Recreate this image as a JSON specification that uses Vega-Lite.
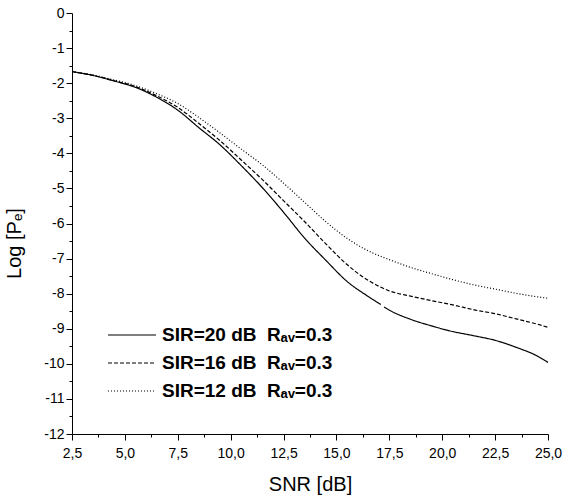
{
  "$schema": "https://vega.github.io/schema/vega-lite/v6.json",
  "width": 476,
  "height": 421,
  "autosize": {"type": "none"},
  "padding": {"left": 72, "top": 13, "right": 22, "bottom": 68},
  "background": "white",
  "config": {
    "view": {"stroke": null},
    "font": "Liberation Sans",
    "axis": {
      "grid": false,
      "domainColor": "black",
      "domainWidth": 1,
      "tickColor": "black",
      "tickWidth": 1,
      "labelColor": "black",
      "labelFont": "Liberation Sans",
      "labelFontSize": 14,
      "titleColor": "black",
      "titleFont": "Liberation Sans",
      "titleFontSize": 20,
      "titleFontWeight": "normal"
    }
  },
  "data": {
    "values": [
      {"snr": 2.5, "logpe": -1.67, "series": "SIR=20 dB\u00a0\u00a0Rₐᵥ=0.3", "seg": "a"},
      {"snr": 3.5, "logpe": -1.78, "series": "SIR=20 dB\u00a0\u00a0Rₐᵥ=0.3", "seg": "a"},
      {"snr": 4.5, "logpe": -1.94, "series": "SIR=20 dB\u00a0\u00a0Rₐᵥ=0.3", "seg": "a"},
      {"snr": 5.5, "logpe": -2.12, "series": "SIR=20 dB\u00a0\u00a0Rₐᵥ=0.3", "seg": "a"},
      {"snr": 6.5, "logpe": -2.40, "series": "SIR=20 dB\u00a0\u00a0Rₐᵥ=0.3", "seg": "a"},
      {"snr": 7.5, "logpe": -2.77, "series": "SIR=20 dB\u00a0\u00a0Rₐᵥ=0.3", "seg": "a"},
      {"snr": 8.5, "logpe": -3.27, "series": "SIR=20 dB\u00a0\u00a0Rₐᵥ=0.3", "seg": "a"},
      {"snr": 9.5, "logpe": -3.76, "series": "SIR=20 dB\u00a0\u00a0Rₐᵥ=0.3", "seg": "a"},
      {"snr": 10.5, "logpe": -4.35, "series": "SIR=20 dB\u00a0\u00a0Rₐᵥ=0.3", "seg": "a"},
      {"snr": 11.5, "logpe": -4.98, "series": "SIR=20 dB\u00a0\u00a0Rₐᵥ=0.3", "seg": "a"},
      {"snr": 12.5, "logpe": -5.68, "series": "SIR=20 dB\u00a0\u00a0Rₐᵥ=0.3", "seg": "a"},
      {"snr": 13.5, "logpe": -6.42, "series": "SIR=20 dB\u00a0\u00a0Rₐᵥ=0.3", "seg": "a"},
      {"snr": 14.5, "logpe": -7.05, "series": "SIR=20 dB\u00a0\u00a0Rₐᵥ=0.3", "seg": "a"},
      {"snr": 15.5, "logpe": -7.65, "series": "SIR=20 dB\u00a0\u00a0Rₐᵥ=0.3", "seg": "a"},
      {"snr": 16.5, "logpe": -8.08, "series": "SIR=20 dB\u00a0\u00a0Rₐᵥ=0.3", "seg": "a"},
      {"snr": 17.1, "logpe": -8.31, "series": "SIR=20 dB\u00a0\u00a0Rₐᵥ=0.3", "seg": "a"},
      {"snr": 17.25, "logpe": -8.38, "series": "SIR=20 dB\u00a0\u00a0Rₐᵥ=0.3", "seg": "b"},
      {"snr": 17.5, "logpe": -8.47, "series": "SIR=20 dB\u00a0\u00a0Rₐᵥ=0.3", "seg": "b"},
      {"snr": 18.5, "logpe": -8.73, "series": "SIR=20 dB\u00a0\u00a0Rₐᵥ=0.3", "seg": "b"},
      {"snr": 19.5, "logpe": -8.92, "series": "SIR=20 dB\u00a0\u00a0Rₐᵥ=0.3", "seg": "b"},
      {"snr": 20.5, "logpe": -9.08, "series": "SIR=20 dB\u00a0\u00a0Rₐᵥ=0.3", "seg": "b"},
      {"snr": 21.5, "logpe": -9.20, "series": "SIR=20 dB\u00a0\u00a0Rₐᵥ=0.3", "seg": "b"},
      {"snr": 22.5, "logpe": -9.33, "series": "SIR=20 dB\u00a0\u00a0Rₐᵥ=0.3", "seg": "b"},
      {"snr": 23.5, "logpe": -9.53, "series": "SIR=20 dB\u00a0\u00a0Rₐᵥ=0.3", "seg": "b"},
      {"snr": 24.5, "logpe": -9.78, "series": "SIR=20 dB\u00a0\u00a0Rₐᵥ=0.3", "seg": "b"},
      {"snr": 25.0, "logpe": -9.96, "series": "SIR=20 dB\u00a0\u00a0Rₐᵥ=0.3", "seg": "b"},

      {"snr": 2.5, "logpe": -1.67, "series": "SIR=16 dB\u00a0\u00a0Rₐᵥ=0.3", "seg": "a"},
      {"snr": 3.5, "logpe": -1.78, "series": "SIR=16 dB\u00a0\u00a0Rₐᵥ=0.3", "seg": "a"},
      {"snr": 4.5, "logpe": -1.93, "series": "SIR=16 dB\u00a0\u00a0Rₐᵥ=0.3", "seg": "a"},
      {"snr": 5.5, "logpe": -2.10, "series": "SIR=16 dB\u00a0\u00a0Rₐᵥ=0.3", "seg": "a"},
      {"snr": 6.5, "logpe": -2.36, "series": "SIR=16 dB\u00a0\u00a0Rₐᵥ=0.3", "seg": "a"},
      {"snr": 7.5, "logpe": -2.69, "series": "SIR=16 dB\u00a0\u00a0Rₐᵥ=0.3", "seg": "a"},
      {"snr": 8.5, "logpe": -3.15, "series": "SIR=16 dB\u00a0\u00a0Rₐᵥ=0.3", "seg": "a"},
      {"snr": 9.5, "logpe": -3.64, "series": "SIR=16 dB\u00a0\u00a0Rₐᵥ=0.3", "seg": "a"},
      {"snr": 10.5, "logpe": -4.19, "series": "SIR=16 dB\u00a0\u00a0Rₐᵥ=0.3", "seg": "a"},
      {"snr": 11.5, "logpe": -4.75, "series": "SIR=16 dB\u00a0\u00a0Rₐᵥ=0.3", "seg": "a"},
      {"snr": 12.5, "logpe": -5.35, "series": "SIR=16 dB\u00a0\u00a0Rₐᵥ=0.3", "seg": "a"},
      {"snr": 13.5, "logpe": -5.95, "series": "SIR=16 dB\u00a0\u00a0Rₐᵥ=0.3", "seg": "a"},
      {"snr": 14.5, "logpe": -6.58, "series": "SIR=16 dB\u00a0\u00a0Rₐᵥ=0.3", "seg": "a"},
      {"snr": 15.5, "logpe": -7.17, "series": "SIR=16 dB\u00a0\u00a0Rₐᵥ=0.3", "seg": "a"},
      {"snr": 16.5, "logpe": -7.62, "series": "SIR=16 dB\u00a0\u00a0Rₐᵥ=0.3", "seg": "a"},
      {"snr": 17.5, "logpe": -7.92, "series": "SIR=16 dB\u00a0\u00a0Rₐᵥ=0.3", "seg": "a"},
      {"snr": 18.5, "logpe": -8.07, "series": "SIR=16 dB\u00a0\u00a0Rₐᵥ=0.3", "seg": "a"},
      {"snr": 19.5, "logpe": -8.20, "series": "SIR=16 dB\u00a0\u00a0Rₐᵥ=0.3", "seg": "a"},
      {"snr": 20.5, "logpe": -8.32, "series": "SIR=16 dB\u00a0\u00a0Rₐᵥ=0.3", "seg": "a"},
      {"snr": 21.5, "logpe": -8.46, "series": "SIR=16 dB\u00a0\u00a0Rₐᵥ=0.3", "seg": "a"},
      {"snr": 22.5, "logpe": -8.57, "series": "SIR=16 dB\u00a0\u00a0Rₐᵥ=0.3", "seg": "a"},
      {"snr": 23.5, "logpe": -8.72, "series": "SIR=16 dB\u00a0\u00a0Rₐᵥ=0.3", "seg": "a"},
      {"snr": 24.5, "logpe": -8.87, "series": "SIR=16 dB\u00a0\u00a0Rₐᵥ=0.3", "seg": "a"},
      {"snr": 25.0, "logpe": -8.96, "series": "SIR=16 dB\u00a0\u00a0Rₐᵥ=0.3", "seg": "a"},

      {"snr": 2.5, "logpe": -1.67, "series": "SIR=12 dB\u00a0\u00a0Rₐᵥ=0.3", "seg": "a"},
      {"snr": 3.5, "logpe": -1.77, "series": "SIR=12 dB\u00a0\u00a0Rₐᵥ=0.3", "seg": "a"},
      {"snr": 4.5, "logpe": -1.91, "series": "SIR=12 dB\u00a0\u00a0Rₐᵥ=0.3", "seg": "a"},
      {"snr": 5.5, "logpe": -2.07, "series": "SIR=12 dB\u00a0\u00a0Rₐᵥ=0.3", "seg": "a"},
      {"snr": 6.5, "logpe": -2.30, "series": "SIR=12 dB\u00a0\u00a0Rₐᵥ=0.3", "seg": "a"},
      {"snr": 7.5, "logpe": -2.58, "series": "SIR=12 dB\u00a0\u00a0Rₐᵥ=0.3", "seg": "a"},
      {"snr": 8.5, "logpe": -2.98, "series": "SIR=12 dB\u00a0\u00a0Rₐᵥ=0.3", "seg": "a"},
      {"snr": 9.5, "logpe": -3.42, "series": "SIR=12 dB\u00a0\u00a0Rₐᵥ=0.3", "seg": "a"},
      {"snr": 10.5, "logpe": -3.88, "series": "SIR=12 dB\u00a0\u00a0Rₐᵥ=0.3", "seg": "a"},
      {"snr": 11.5, "logpe": -4.33, "series": "SIR=12 dB\u00a0\u00a0Rₐᵥ=0.3", "seg": "a"},
      {"snr": 12.5, "logpe": -4.85, "series": "SIR=12 dB\u00a0\u00a0Rₐᵥ=0.3", "seg": "a"},
      {"snr": 13.5, "logpe": -5.40, "series": "SIR=12 dB\u00a0\u00a0Rₐᵥ=0.3", "seg": "a"},
      {"snr": 14.5, "logpe": -5.95, "series": "SIR=12 dB\u00a0\u00a0Rₐᵥ=0.3", "seg": "a"},
      {"snr": 15.5, "logpe": -6.42, "series": "SIR=12 dB\u00a0\u00a0Rₐᵥ=0.3", "seg": "a"},
      {"snr": 16.5, "logpe": -6.78, "series": "SIR=12 dB\u00a0\u00a0Rₐᵥ=0.3", "seg": "a"},
      {"snr": 17.5, "logpe": -7.03, "series": "SIR=12 dB\u00a0\u00a0Rₐᵥ=0.3", "seg": "a"},
      {"snr": 18.5, "logpe": -7.25, "series": "SIR=12 dB\u00a0\u00a0Rₐᵥ=0.3", "seg": "a"},
      {"snr": 19.5, "logpe": -7.43, "series": "SIR=12 dB\u00a0\u00a0Rₐᵥ=0.3", "seg": "a"},
      {"snr": 20.5, "logpe": -7.60, "series": "SIR=12 dB\u00a0\u00a0Rₐᵥ=0.3", "seg": "a"},
      {"snr": 21.5, "logpe": -7.75, "series": "SIR=12 dB\u00a0\u00a0Rₐᵥ=0.3", "seg": "a"},
      {"snr": 22.5, "logpe": -7.87, "series": "SIR=12 dB\u00a0\u00a0Rₐᵥ=0.3", "seg": "a"},
      {"snr": 23.5, "logpe": -7.99, "series": "SIR=12 dB\u00a0\u00a0Rₐᵥ=0.3", "seg": "a"},
      {"snr": 24.5, "logpe": -8.09, "series": "SIR=12 dB\u00a0\u00a0Rₐᵥ=0.3", "seg": "a"},
      {"snr": 25.0, "logpe": -8.13, "series": "SIR=12 dB\u00a0\u00a0Rₐᵥ=0.3", "seg": "a"}
    ]
  },
  "mark": {"type": "line", "color": "black", "strokeWidth": 1.2, "interpolate": "monotone"},
  "encoding": {
    "x": {
      "field": "snr",
      "type": "quantitative",
      "scale": {"domain": [2.5, 25], "nice": false, "zero": false},
      "axis": {
        "title": "SNR [dB]",
        "values": [2.5, 3.75, 5, 6.25, 7.5, 8.75, 10, 11.25, 12.5, 13.75, 15, 16.25, 17.5, 18.75, 20, 21.25, 22.5, 23.75, 25],
        "labelExpr": "(datum.value / 2.5) % 1 != 0 ? '' : replace(format(datum.value, '.1f'), '.', ',')",
        "tickSize": {"condition": {"test": "(datum.value / 2.5) % 1 != 0", "value": 3}, "value": 6},
        "labelPadding": 6,
        "labelFlush": false,
        "labelOverlap": false,
        "titlePadding": 14
      }
    },
    "y": {
      "field": "logpe",
      "type": "quantitative",
      "scale": {"domain": [-12, 0], "nice": false, "zero": false},
      "axis": {
        "title": "Log [Pₑ]",
        "values": [0, -0.5, -1, -1.5, -2, -2.5, -3, -3.5, -4, -4.5, -5, -5.5, -6, -6.5, -7, -7.5, -8, -8.5, -9, -9.5, -10, -10.5, -11, -11.5, -12],
        "labelExpr": "datum.value % 1 != 0 ? '' : '' + datum.value",
        "tickSize": {"condition": {"test": "datum.value % 1 != 0", "value": 3}, "value": 6},
        "labelPadding": 2,
        "labelFlush": false,
        "labelOverlap": false,
        "titlePadding": 19,
        "titleY": 230
      }
    },
    "strokeDash": {
      "field": "series",
      "type": "nominal",
      "scale": {
        "domain": ["SIR=20 dB\u00a0\u00a0Rₐᵥ=0.3", "SIR=16 dB\u00a0\u00a0Rₐᵥ=0.3", "SIR=12 dB\u00a0\u00a0Rₐᵥ=0.3"],
        "range": [[1, 0], [4, 2], [1, 2]]
      },
      "legend": {
        "title": null,
        "orient": "none",
        "legendX": 35,
        "legendY": 311,
        "padding": 0,
        "clipHeight": 22,
        "symbolType": "stroke",
        "symbolSize": 2304,
        "symbolStrokeWidth": 1.2,
        "symbolStrokeColor": "black",
        "labelFont": "Liberation Sans",
        "labelFontSize": 19,
        "labelFontWeight": "bold",
        "labelColor": "black",
        "labelOffset": 5,
        "rowPadding": 6,
        "labelLimit": 400
      }
    },
    "detail": {"field": "seg", "type": "nominal"}
  }
}
